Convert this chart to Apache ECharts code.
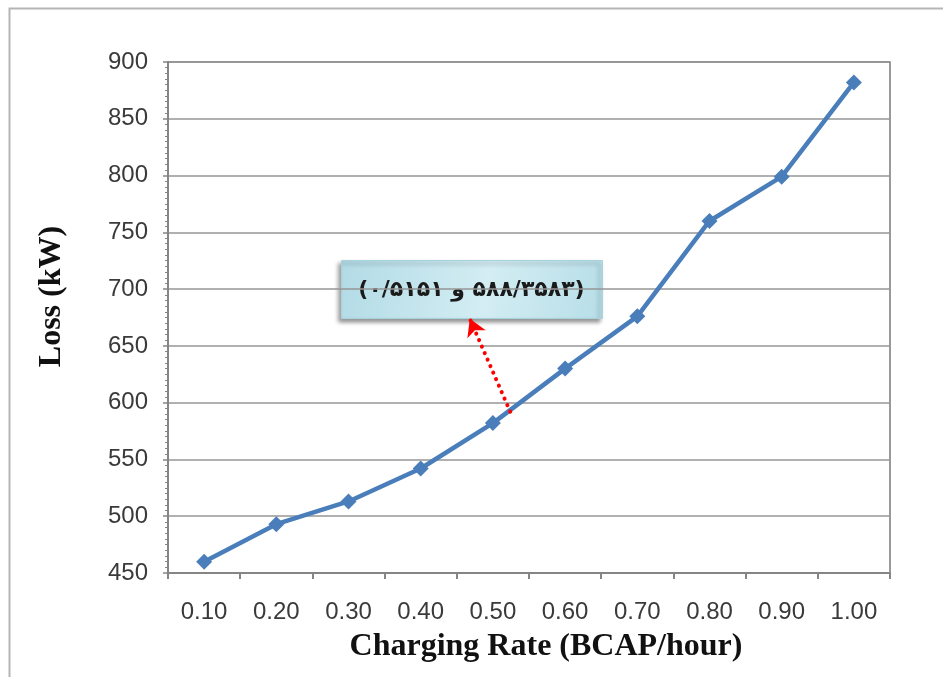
<!DOCTYPE html>
<html>
<head>
<meta charset="utf-8">
<script src="https://cdn.jsdelivr.net/npm/echarts@6/dist/echarts.min.js"></script>
<style>
html,body{margin:0;padding:0;background:#fff;}
#chart{width:943px;height:677px;}
</style>
</head>
<body>
<div id="chart"></div>
<script>
var categories = ['0.10','0.20','0.30','0.40','0.50','0.60','0.70','0.80','0.90','1.00'];
var lossValues = [460, 493, 513, 542, 582, 630, 676, 760, 799, 882];
var yMin = 450, yMax = 900, yStep = 50;
var annotationText = '\u202B(\u06F5\u06F8\u06F8/\u06F3\u06F5\u06F8\u06F3 \u0648 \u06F0/\u06F5\u06F1\u06F5\u06F1)\u202C';
var arrowFrom = [4.74, 592];
var arrowTo = [4.18, 674];

var chart = echarts.init(document.getElementById('chart'), null, {renderer:'canvas'});
var option = {
  animation: false,
  backgroundColor: '#ffffff',
  grid: {left:168, top:62, right:53, bottom:104, show:true, borderColor:'#7a7a7a', borderWidth:1.5, backgroundColor:'transparent'},
  xAxis: [{
    type:'category', data:categories, boundaryGap:true,
    axisLine:{lineStyle:{color:'#858585', width:2}},
    axisTick:{show:true, length:6, inside:false, alignWithLabel:false, lineStyle:{color:'#858585', width:2}},
    axisLabel:{margin:27, fontFamily:'Liberation Sans', fontSize:24, color:'#3a3a3a'},
    splitLine:{show:false},
    name:'Charging Rate (BCAP/hour)', nameLocation:'middle', nameGap:58,
    nameTextStyle:{fontFamily:'Liberation Serif', fontWeight:'bold', fontSize:32, color:'#111', padding:[0,0,0,34]}
  },{
    type:'value', min:0, max:10, show:false
  }],
  yAxis: {
    type:'value', min:yMin, max:yMax, interval:yStep,
    axisLine:{show:true, lineStyle:{color:'#858585', width:2}},
    axisTick:{show:true, length:5, lineStyle:{color:'#858585', width:1.5}},
    minorTick:{show:true, splitNumber:10, length:3, lineStyle:{color:'#858585', width:1}},
    axisLabel:{margin:20, fontFamily:'Liberation Sans', fontSize:24, color:'#3a3a3a'},
    splitLine:{show:true, lineStyle:{color:'#969696', width:1.5}},
    name:'Loss (kW)', nameLocation:'middle', nameGap:100, nameRotate:90,
    nameTextStyle:{fontFamily:'Liberation Serif', fontWeight:'bold', fontSize:32, color:'#111', padding:[0,0,0,42]}
  },
  series: [{
    type:'line', data:lossValues, xAxisIndex:0,
    symbol:'diamond', symbolSize:16,
    lineStyle:{color:'#4a7ebb', width:4.5},
    itemStyle:{color:'#4a7ebb'},
    z:3
  },{
    type:'line', data:[], xAxisIndex:1,
    silent:true,
    markLine:{
      silent:true, symbol:['none','arrow'], symbolSize:[15,17],
      label:{show:false},
      lineStyle:{color:'#ff0000', width:4, type:[0.1,7], cap:'round'},
      data:[[{coord:arrowFrom},{coord:arrowTo}]]
    },
    z:4
  }],
  graphic: [
    {type:'rect', left:7, top:6, shape:{x:0,y:0,width:1000,height:1000}, style:{fill:'none', stroke:'#b5b5b5', lineWidth:2}, z:-10, silent:true},
    {type:'group', left:341, top:260, z:10, children:[
      {type:'rect', shape:{x:0,y:0,width:261,height:58},
        style:{
          fill:new echarts.graphic.LinearGradient(0,0,1,1,[{offset:0,color:'#b2dbe6'},{offset:0.55,color:'#d3edf3'},{offset:1,color:'#b7dee8'}]),
          stroke:'#a8d3de', lineWidth:1,
          shadowBlur:4, shadowOffsetX:-3, shadowOffsetY:3, shadowColor:'rgba(0,0,0,0.4)'
        }},
      {type:'text', style:{x:130, y:30, text:annotationText, align:'center', verticalAlign:'middle',
        font:'bold 22px "DejaVu Sans"', fill:'#1a1a1a'}}
    ]}
  ]
};
chart.setOption(option);
</script>
</body>
</html>
